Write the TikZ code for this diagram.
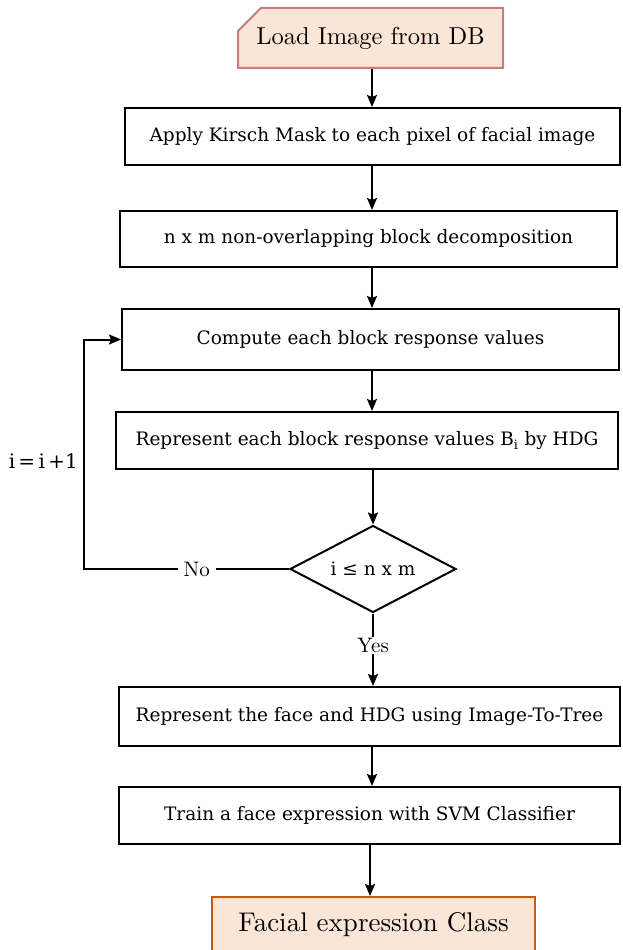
\documentclass[tikz,border=0pt]{standalone}
\usepackage{fontspec}
\newfontfamily\boxfont{DejaVu Serif}
\newfontfamily\capfont{lmroman10-regular}[Extension=.otf]
\usetikzlibrary{shapes.geometric,shapes.misc,arrows.meta}
\definecolor{peach}{HTML}{FBE5D6}
\definecolor{rosered}{HTML}{C87C7C}
\definecolor{rust}{HTML}{C55A11}

\begin{document}
\begin{tikzpicture}[x=1pt,y=-1pt,
  proc/.style={draw=black, line width=2pt, rectangle, inner sep=0pt,
    font=\boxfont\fontsize{18.5}{22}\selectfont},
  termtop/.style={chamfered rectangle, chamfered rectangle corners=north west,
    chamfered rectangle xsep=11pt, chamfered rectangle ysep=12pt,
    draw=rosered, fill=peach, line width=2pt, inner sep=0pt,
    font=\capfont\fontsize{24.5}{28}\selectfont},
  termbot/.style={rectangle, draw=rust, fill=peach, line width=2pt, inner sep=0pt,
    font=\capfont\fontsize{27}{31}\selectfont},
  decision/.style={diamond, aspect=1.9, draw=black, line width=2pt, inner sep=0pt,
    font=\boxfont\fontsize{18.5}{22}\selectfont},
  lbl/.style={font=\capfont\fontsize{21}{25}\selectfont, inner sep=1pt},
  flow/.style={line width=2pt, -{Stealth[length=12pt,width=10pt,inset=2pt]}}
]
\useasboundingbox (0,0) rectangle (622,950);

% process chain
\node[termtop, minimum width=265pt, minimum height=60pt] (load) at (370.5,38) {Load Image from DB};
\node[proc, minimum width=495pt, minimum height=57pt] (kirsch) at (372.5,136.5)
  {Apply Kirsch Mask to each pixel of facial image};
\node[proc, minimum width=497pt, minimum height=56pt] (blocks) at (368.5,239)
  {n x m non-overlapping block decomposition};
\node[proc, minimum width=497pt, minimum height=61pt] (compute) at (370.5,339.5)
  {Compute each block response values};
\node[proc, minimum width=502pt, minimum height=57pt] (hdg) at (367,440.5)
  {Represent each block response values B\textsubscript{i} by HDG};
\node[decision, minimum width=166pt, minimum height=87pt] (dec) at (373,569)
  {i ≤ n x m};
\node[proc, minimum width=501pt, minimum height=59pt] (tree) at (369.5,716.5)
  {Represent the face and HDG using Image-To-Tree};
\node[proc, minimum width=501pt, minimum height=57pt] (svm) at (369.5,815.5)
  {Train a face expression with SVM Classifier};
\node[termbot, minimum width=323pt, minimum height=56pt] (class) at (373.5,925)
  {Facial expression Class};

\node[font=\boxfont\fontsize{20}{24}\selectfont, anchor=east, inner sep=0pt] (inc) at (78,461) {i\,=\,i\,+1};
\coordinate (loopc) at (84,569);
% vertical spine shared by the top-to-bottom connectors
\coordinate (spine) at (372,0);
\coordinate (spinelow) at (370,0);

% connectors
\draw[flow] (load.south -| spine) -- (kirsch.north -| spine);
\draw[flow] (kirsch.south -| spine) -- (blocks.north -| spine);
\draw[flow] (blocks.south -| spine) -- (compute.north -| spine);
\draw[flow] (compute.south -| spine) -- (hdg.north -| spine);
\draw[flow] (hdg.south -| dec.north) -- (dec.north);
\draw[flow] (dec.south) -- node[lbl, fill=white, pos=0.44] {Yes} (dec.south |- tree.north);
\draw[flow] (tree.south -| spine) -- (svm.north -| spine);
\draw[flow] (svm.south -| spinelow) -- (class.north -| spinelow);
\draw[flow] (dec.west) -- node[lbl, fill=white, pos=0.45, inner xsep=6pt] {No} (loopc) |- (compute.west);
\end{tikzpicture}
\end{document}
